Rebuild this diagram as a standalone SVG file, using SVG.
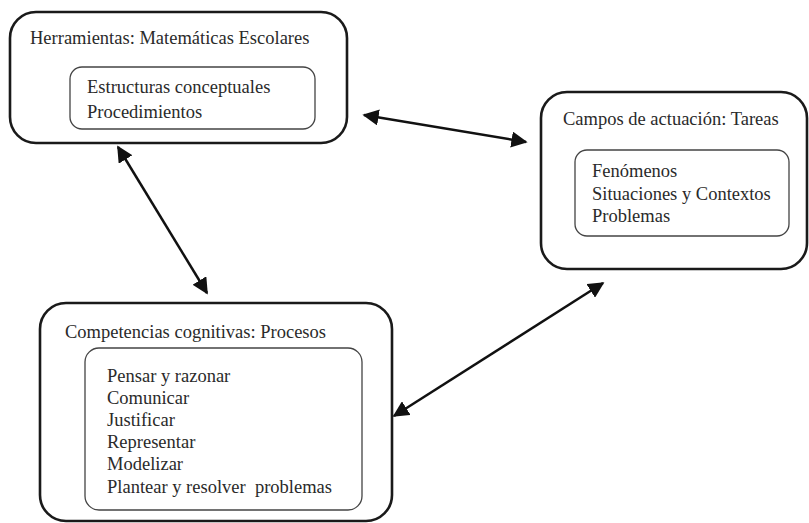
<svg xmlns="http://www.w3.org/2000/svg" width="809" height="523" viewBox="0 0 809 523">
<defs>
<style>
.outer{fill:#fff;stroke:#1a1a1a;stroke-width:2.6}
.inner{fill:none;stroke:#444;stroke-width:1.3}
text{font-family:"Liberation Serif","Times New Roman",serif;font-size:18.5px;fill:#2a2a2a;white-space:pre}
.conn line{stroke:#111;stroke-width:2.5;marker-start:url(#ah);marker-end:url(#ah)}
</style>
<marker id="ah" viewBox="0 0 10 10" refX="9" refY="5" markerWidth="6.5" markerHeight="6.5" orient="auto-start-reverse" markerUnits="strokeWidth">
<path d="M0,0 L10,5 L0,10 z" fill="#111"/>
</marker>
</defs>
<rect width="809" height="523" fill="#fff"/>
<g id="herramientas">
<rect class="outer" x="10" y="12" width="337" height="131" rx="26"/>
<rect class="inner" x="70" y="67" width="245" height="62" rx="12"/>
<text x="30" y="44">Herramientas: Matemáticas Escolares</text>
<text x="87" y="93">Estructuras conceptuales</text>
<text x="87" y="118">Procedimientos</text>
</g>
<g id="campos">
<rect class="outer" x="541" y="92" width="266" height="177" rx="26"/>
<rect class="inner" x="575" y="150" width="214" height="86" rx="12"/>
<text x="563" y="125">Campos de actuación: Tareas</text>
<text x="592" y="177">Fenómenos</text>
<text x="592" y="200">Situaciones y Contextos</text>
<text x="592" y="222">Problemas</text>
</g>
<g id="competencias">
<rect class="outer" x="40" y="303" width="352" height="218" rx="26"/>
<rect class="inner" x="85" y="348" width="277" height="162" rx="14"/>
<text x="65" y="338">Competencias cognitivas: Procesos</text>
<text x="107" y="382">Pensar y razonar</text>
<text x="107" y="404">Comunicar</text>
<text x="107" y="426">Justificar</text>
<text x="107" y="448">Representar</text>
<text x="107" y="470">Modelizar</text>
<text x="107" y="493" xml:space="preserve">Plantear y resolver  problemas</text>
</g>
<g id="connectors" class="conn">
<line x1="364" y1="115" x2="526" y2="142"/>
<line x1="118" y1="147" x2="207" y2="293"/>
<line x1="394" y1="416" x2="603" y2="283"/>
</g>
</svg>
